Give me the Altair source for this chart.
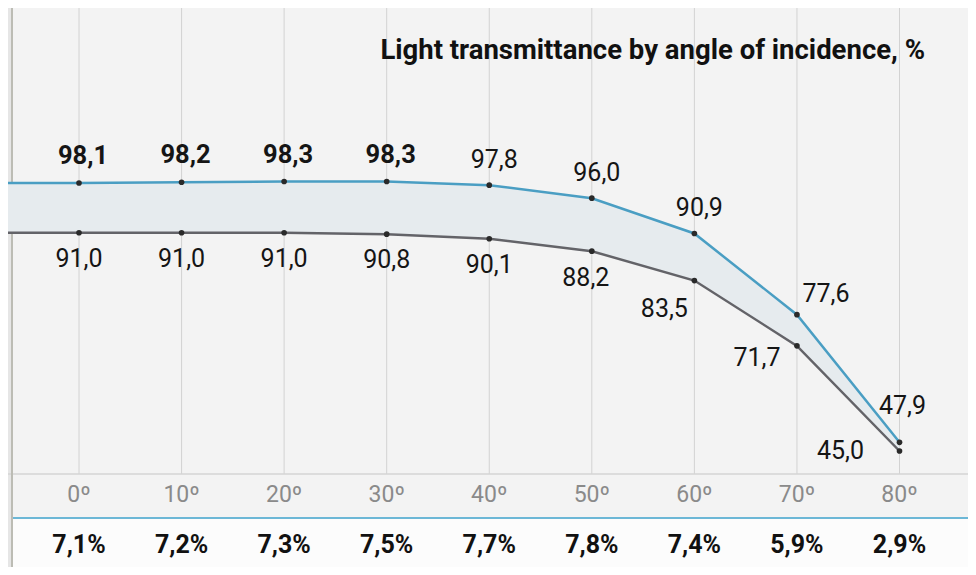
import altair as alt
import pandas as pd

# ---- data -------------------------------------------------------------
angles = [0, 10, 20, 30, 40, 50, 60, 70, 80]
upper = [98.1, 98.2, 98.3, 98.3, 97.8, 96.0, 90.9, 77.6, 47.9]
lower = [91.0, 91.0, 91.0, 90.8, 90.1, 88.2, 83.5, 71.7, 45.0]
bottom_pct = [7.1, 7.2, 7.3, 7.5, 7.7, 7.8, 7.4, 5.9, 2.9]
title_text = "Light transmittance by angle of incidence, %"


def fmt(v):
    return f"{v:.1f}".replace(".", ",")


df = pd.DataFrame({
    "angle": angles,
    "upper": upper,
    "lower": lower,
    "upper_lbl": [fmt(v) for v in upper],
    "lower_lbl": [fmt(v) for v in lower],
    "pct_lbl": [fmt(v) + "%" for v in bottom_pct],
    "angle_lbl": [f"{a}º" for a in angles],
})
one = pd.DataFrame({"k": [0]})

# ---- styling ----------------------------------------------------------
W, H = 960, 559
FONT = "Roboto"
BLUE = "#4a9ec3"
GREY = "#636368"

x_scale = alt.Scale(domain=[0, 80], range=[71, 891.5])
y_scale = alt.Scale(type="pow", exponent=2.2, domain=[45, 98.1], range=[443, 175])
X = alt.X("angle:Q", scale=x_scale, axis=None)


def Y(field):
    return alt.Y(f"{field}:Q", scale=y_scale, axis=None)


base = alt.Chart(df)
static = alt.Chart(one)

left_margin = static.mark_rect(color="#e6e6e6").encode(
    x=alt.value(0), x2=alt.value(3), y=alt.value(0), y2=alt.value(H))
left_border = static.mark_rule(color="#bcbcb4", strokeWidth=2).encode(
    x=alt.value(4), y=alt.value(0), y2=alt.value(H))
grid = base.mark_rule(color="#d2d2d2", strokeWidth=1).encode(
    x=X, y=alt.value(0), y2=alt.value(466))
axis_line = static.mark_rule(color="#d4d4d4", strokeWidth=1.5).encode(
    x=alt.value(0), x2=alt.value(W), y=alt.value(466))
bottom_band = static.mark_rect(color="#fcfcfc").encode(
    x=alt.value(5), x2=alt.value(W), y=alt.value(511), y2=alt.value(H))
sep_line = static.mark_rule(color="#6cb7d6", strokeWidth=2).encode(
    x=alt.value(4), x2=alt.value(W), y=alt.value(510))

band = base.mark_area(color="#e6ebee").encode(x=X, y=Y("upper"), y2="lower:Q")
band_stub = base.transform_filter("datum.angle == 0").mark_rect(color="#e6ebee").encode(
    x=X, x2=alt.value(0), y=Y("upper"), y2="lower:Q")

line_up = base.mark_line(color=BLUE, strokeWidth=2.5).encode(x=X, y=Y("upper"))
line_lo = base.mark_line(color=GREY, strokeWidth=2.5).encode(x=X, y=Y("lower"))
stub_up = base.transform_filter("datum.angle == 0").mark_rule(color=BLUE, strokeWidth=2.5).encode(
    x=X, x2=alt.value(0), y=Y("upper"))
stub_lo = base.transform_filter("datum.angle == 0").mark_rule(color=GREY, strokeWidth=2.5).encode(
    x=X, x2=alt.value(0), y=Y("lower"))

pts_up = base.mark_circle(size=32, color="#2a2a2a", opacity=1).encode(x=X, y=Y("upper"))
pts_lo = base.mark_circle(size=32, color="#2a2a2a", opacity=1).encode(x=X, y=Y("lower"))


def labels(series, filt, dx, dy, bold=False):
    return base.transform_filter(filt).mark_text(
        font=FONT, fontSize=25.5 if bold else 25, fontWeight="bold" if bold else "normal",
        color="#151515", dx=dx, dy=dy, align="center", baseline="middle"
    ).encode(x=X, y=Y(series), text=f"{series}_lbl:N")


lbls = [
    labels("upper", "datum.angle <= 30", 4, -27, bold=True),
    labels("upper", "datum.angle >= 40 && datum.angle <= 60", 5, -25),
    labels("upper", "datum.angle == 70", 29, -21),
    labels("upper", "datum.angle == 80", 3, -36),
    labels("lower", "datum.angle <= 40", 0, 26),
    labels("lower", "datum.angle == 50", -6, 27),
    labels("lower", "datum.angle == 60", -30, 28),
    labels("lower", "datum.angle == 70", -40, 12),
    labels("lower", "datum.angle == 80", -59, 0),
]

axis_lbls = base.mark_text(font=FONT, fontSize=23, color="#8a8a8a",
                           align="center", baseline="middle").encode(
    x=X, y=alt.value(487), text="angle_lbl:N")
pct_lbls = base.mark_text(font=FONT, fontSize=25, fontWeight="bold", color="#111111",
                          align="center", baseline="middle").encode(
    x=X, y=alt.value(537), text="pct_lbl:N")
title = static.mark_text(text=title_text, font=FONT, fontSize=27.5, fontWeight="bold",
                         color="#111111", align="right", baseline="alphabetic").encode(
    x=alt.value(917), y=alt.value(51))

chart = alt.layer(
    left_margin, grid, axis_line, bottom_band, sep_line, left_border,
    band, band_stub, line_up, line_lo, stub_up, stub_lo, pts_up, pts_lo,
    *lbls, axis_lbls, pct_lbls, title,
).properties(
    width=W, height=H, background="#f3f3f3", padding=0, autosize="none"
).configure_view(stroke=None)

chart.save("out.html", embed_options={"renderer": "svg", "actions": False})
